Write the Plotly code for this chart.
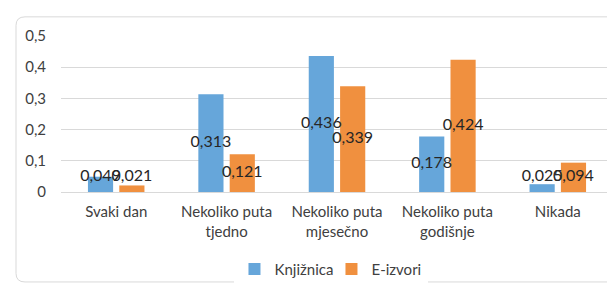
import plotly.graph_objects as go

categories = ["Svaki dan", "Nekoliko puta<br>tjedno", "Nekoliko puta<br>mjesečno",
              "Nekoliko puta<br>godišnje", "Nikada"]
knjiznica = [0.049, 0.313, 0.436, 0.178, 0.025]
e_izvori = [0.021, 0.121, 0.339, 0.424, 0.094]
tick_vals = [0, 0.1, 0.2, 0.3, 0.4, 0.5]
tick_text = ["0", "0,1", "0,2", "0,3", "0,4", "0,5"]

FONT = "Lato, 'Open Sans', sans-serif"
BLUE = "#66A6DA"
ORANGE = "#F0903F"

idx = list(range(len(categories)))
OFF = 0.142
BW = 0.228

fig = go.Figure()
for name, vals, col, sgn in [("Knjižnica", knjiznica, BLUE, -1), ("E-izvori", e_izvori, ORANGE, 1)]:
    xs = [i + sgn * OFF for i in idx]
    fig.add_trace(go.Bar(
        x=xs, y=vals, name=name, width=BW,
        marker=dict(color=col, line=dict(width=0)),
    ))
    fig.add_trace(go.Scatter(
        x=xs, y=[max(v / 2, 0.048) for v in vals], mode="text",
        text=[f"{v:.3f}".replace(".", ",") for v in vals],
        textposition="middle center", showlegend=False, hoverinfo="skip",
        cliponaxis=False,
        textfont=dict(family=FONT, size=16, color="#262626"),
    ))

# rounded chart border in paper coordinates
W, H = 552.0, 163.0
x0, x1 = (8 - 53) / W, (612 - 53) / W
y0, y1 = (191 - 285) / H, (191 - 8) / H
rx, ry = 9 / W, 9 / H
path = (f"M {x0+rx},{y1} L {x1-rx},{y1} Q {x1},{y1} {x1},{y1-ry} "
        f"L {x1},{y0+ry} Q {x1},{y0} {x1-rx},{y0} L {x0+rx},{y0} "
        f"Q {x0},{y0} {x0},{y0+ry} L {x0},{y1-ry} Q {x0},{y1} {x0+rx},{y1} Z")

fig.update_layout(
    width=615, height=288,
    margin=dict(l=53, r=10, t=28, b=97),
    paper_bgcolor="white", plot_bgcolor="white",
    barmode="overlay",
    font=dict(family=FONT, size=15, color="#404040"),
    showlegend=True,
    legend=dict(orientation="h", x=0.49, xanchor="center", y=-0.39, yanchor="top",
                font=dict(family=FONT, size=15, color="#404040"),
                itemwidth=30, entrywidth=52, entrywidthmode="pixels",
                traceorder="normal"),
    shapes=[dict(type="path", xref="paper", yref="paper", path=path,
                 line=dict(color="#D9D9D9", width=1), layer="below")],
)
fig.update_xaxes(range=[-0.5, len(categories) - 0.5], tickvals=idx, ticktext=categories,
                 showgrid=False, showline=True, linecolor="#D9D9D9", linewidth=1,
                 zeroline=False, ticks="", ticklabelstandoff=6,
                 tickfont=dict(family=FONT, size=15, color="#404040"))
fig.update_yaxes(range=[0, 0.5], tickvals=tick_vals, ticktext=tick_text,
                 showgrid=True, gridcolor="#D9D9D9", gridwidth=1, zeroline=False,
                 showline=False, ticks="", ticklabelstandoff=14,
                 tickfont=dict(family=FONT, size=15, color="#404040"))

fig.write_html("out.html")
